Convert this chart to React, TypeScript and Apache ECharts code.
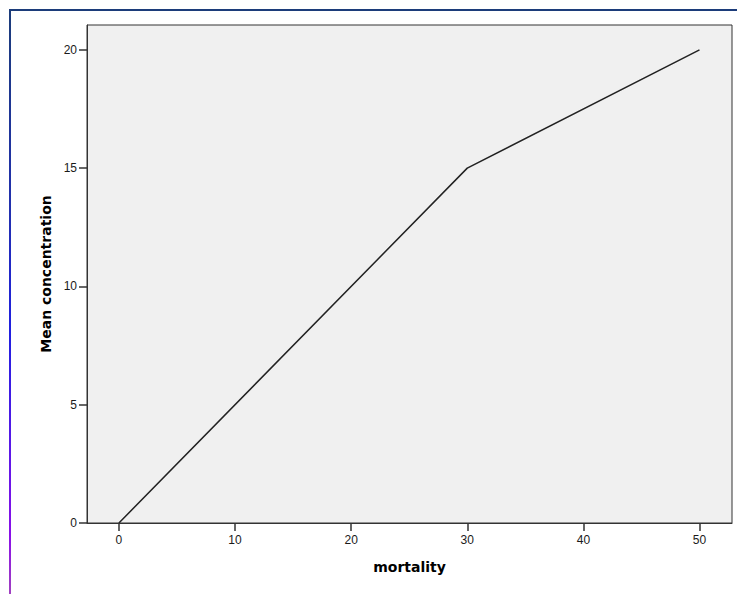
import React, { useEffect, useRef } from "react";
import * as echarts from "echarts";

const mortality = [0, 30, 50];
const meanConcentration = [0, 15, 20];
const xTicks = [0, 10, 20, 30, 40, 50];
const yTicks = [0, 5, 10, 15, 20];

export default function App() {
  const ref = useRef<HTMLDivElement>(null);
  useEffect(() => {
    if (!ref.current) return;
    const chart = echarts.init(ref.current, null, { renderer: "svg" });
    const axisColor = "#333";
    const labelStyle = { fontFamily: "Liberation Sans", fontSize: 12, color: "#1a1a1a" };
    chart.setOption({
      animation: false,
      grid: {
        left: 87,
        top: 25,
        right: 5,
        bottom: 71,
        show: true,
        backgroundColor: "#f0f0f0",
        borderColor: axisColor,
        borderWidth: 1,
      },
      xAxis: {
        type: "value",
        min: -2.75,
        max: 52.8,
        name: "mortality",
        nameLocation: "middle",
        nameGap: 37,
        nameTextStyle: { fontFamily: "DejaVu Sans", fontWeight: "bold", fontSize: 14, color: "#000" },
        axisLine: { show: true, onZero: false, lineStyle: { color: axisColor, width: 1 } },
        axisTick: { show: true, length: 8, lineStyle: { color: axisColor, width: 1.5 }, customValues: xTicks },
        axisLabel: { ...labelStyle, margin: 11, customValues: xTicks },
        splitLine: { show: false },
      },
      yAxis: {
        type: "value",
        min: 0,
        max: 21.05,
        name: "Mean concentration",
        nameLocation: "middle",
        nameGap: 32,
        nameRotate: 90,
        nameTextStyle: { fontFamily: "DejaVu Sans", fontWeight: "bold", fontSize: 14, color: "#000" },
        axisLine: { show: true, onZero: false, lineStyle: { color: axisColor, width: 1 } },
        axisTick: { show: true, length: 8, lineStyle: { color: axisColor, width: 1.5 }, customValues: yTicks },
        axisLabel: { ...labelStyle, margin: 10, customValues: yTicks },
        splitLine: { show: false },
      },
      series: [
        {
          type: "line",
          data: mortality.map((x, i) => [x, meanConcentration[i]]),
          showSymbol: false,
          lineStyle: { color: "#222", width: 1.5 },
          silent: true,
        },
      ],
      graphic: [
        {
          type: "rect",
          shape: { x: 9, y: 9, width: 728, height: 2 },
          style: { fill: "#1c3c7a" },
          silent: true,
        },
        {
          type: "rect",
          shape: { x: 9, y: 9, width: 2, height: 585 },
          style: {
            fill: new echarts.graphic.LinearGradient(0, 0, 0, 1, [
              { offset: 0, color: "#1c3c7a" },
              { offset: 0.35, color: "#2230b0" },
              { offset: 0.55, color: "#2020e0" },
              { offset: 0.75, color: "#5a18e8" },
              { offset: 0.9, color: "#8a10e8" },
              { offset: 1, color: "#a040c0" },
            ]),
          },
          silent: true,
        },
      ],
    });
    return () => chart.dispose();
  }, []);
  return (
    <div
      ref={ref}
      style={{ position: "fixed", left: 0, top: 0, width: 737, height: 594, background: "#fff" }}
    />
  );
}
